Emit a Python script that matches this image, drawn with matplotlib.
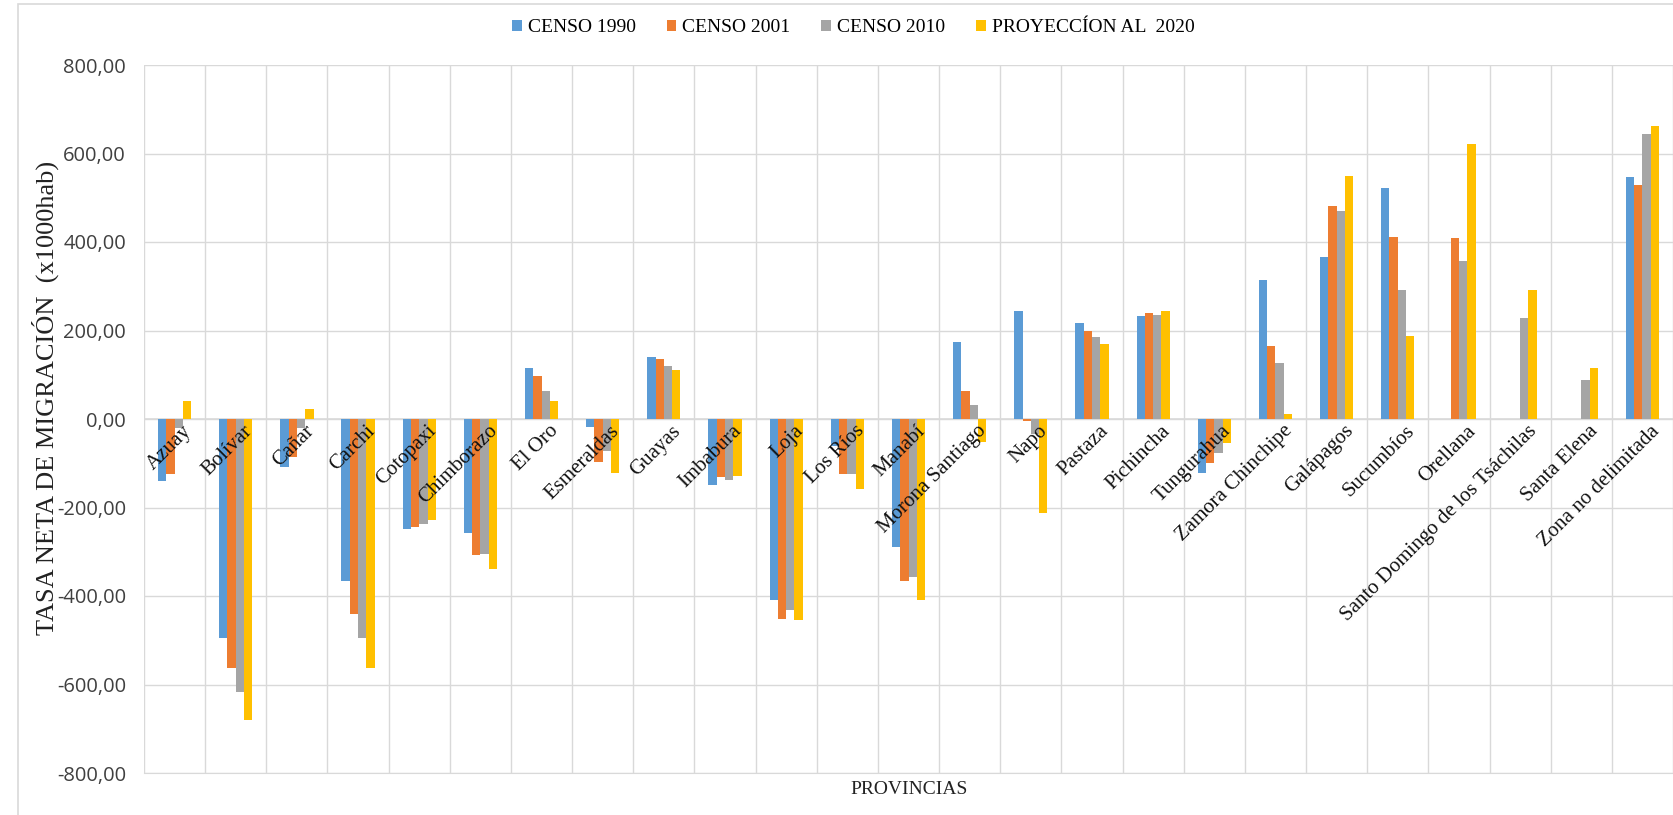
import numpy as np
import matplotlib
matplotlib.use('Agg')
import matplotlib.pyplot as plt
from matplotlib.patches import Rectangle

provincias = [
    "Azuay", "Bolívar", "Cañar", "Carchi", "Cotopaxi", "Chimborazo", "El Oro",
    "Esmeraldas", "Guayas", "Imbabura", "Loja", "Los Ríos", "Manabí",
    "Morona Santiago", "Napo", "Pastaza", "Pichincha", "Tungurahua",
    "Zamora Chinchipe", "Galápagos", "Sucumbíos", "Orellana",
    "Santo Domingo de los Tsáchilas", "Santa Elena", "Zona no delimitada",
]
nan = np.nan
censo_1990 = [-140, -496, -109, -365, -249, -258, 115, -17, 139, -149, -410, -60, -290,
              173, 245, 218, 233, -121, 315, 365, 521, nan, nan, nan, 546]
censo_2001 = [-125, -563, -85, -441, -243, -307, 98, -98, 136, -130, -452, -124, -365,
              64, -5, 199, 239, -99, 165, 482, 412, 409, nan, nan, 529]
censo_2010 = [-20, -618, -20, -496, -237, -304, 63, -73, 120, -138, -432, -124, -357,
              31, -35, 186, 236, -76, 126, 471, 292, 356, 229, 89, 643]
proy_2020 = [40, -680, 23, -563, -229, -338, 40, -121, 111, -128, -455, -158, -410,
             -51, -212, 170, 243, -54, 12, 549, 188, 621, 292, 115, 663]

series = [
    ("CENSO 1990", censo_1990, "#5B9BD5"),
    ("CENSO 2001", censo_2001, "#ED7D31"),
    ("CENSO 2010", censo_2010, "#A5A5A5"),
    ("PROYECCÍON AL  2020", proy_2020, "#FFC000"),
]

SERIF = "Liberation Serif"
SANS = "Open Sans"
W, H = 1673, 815

fig = plt.figure(figsize=(W / 100, H / 100), dpi=100)
ax = fig.add_axes([144 / W, 1 - 773 / H, (W - 144) / W, (773 - 65) / H])

# outer chart frame (only top and left show)
fig.patches.append(Rectangle((18 / W, -0.1), 1.2, 1 - 4 / H + 0.1,
                             transform=fig.transFigure, fill=False,
                             edgecolor="#d9d9d9", linewidth=1.2))

x = np.arange(len(provincias))
w = 0.136
for k, (name, vals, color) in enumerate(series):
    ax.bar(x + (k - 1.5) * w, vals, width=w, color=color, label=name, zorder=3)

ax.set_xlim(-0.5, len(provincias) - 0.5)
ax.set_ylim(-800, 800)
yt = np.arange(-800, 801, 200)
ax.set_yticks(yt)
ax.set_yticklabels([f"{v:.2f}".replace(".", ",") for v in yt],
                   fontsize=14.5, family=SANS, color="#404040")
ax.set_xticks(np.arange(-0.5, len(provincias), 1.0))
ax.set_xticklabels([])
ax.tick_params(length=0, pad=13)
ax.grid(True, color="#d9d9d9", linewidth=1.0, zorder=0)
ax.axhline(0, color="#d9d9d9", linewidth=1.2, zorder=2)
for s in ax.spines.values():
    s.set_visible(False)
ax.spines["bottom"].set_visible(True)
ax.spines["bottom"].set_color("#d9d9d9")

for i, name in enumerate(provincias):
    ax.text(i + 0.12, -6, name, rotation=45, ha="right", va="top",
            rotation_mode="anchor", fontsize=15, family=SERIF, color="#111111",
            zorder=4)

fig.text(45 / W, 1 - 398 / H, "TASA NETA DE MIGRACIÓN  (x1000hab)", rotation=90,
         ha="center", va="center", fontsize=19, family=SERIF, color="#222222")
fig.text(909 / W, 1 - 790 / H, "PROVINCIAS", ha="center", va="center",
         fontsize=14, family=SERIF, color="#222222")

fig.legend(loc="center", bbox_to_anchor=(0.51, 1 - 28 / H), ncol=4, frameon=False,
           prop={"family": SERIF, "size": 14}, handlelength=0.5, handleheight=0.5,
           handletextpad=0.3, columnspacing=1.6)

fig.savefig("out.png", dpi=100)
